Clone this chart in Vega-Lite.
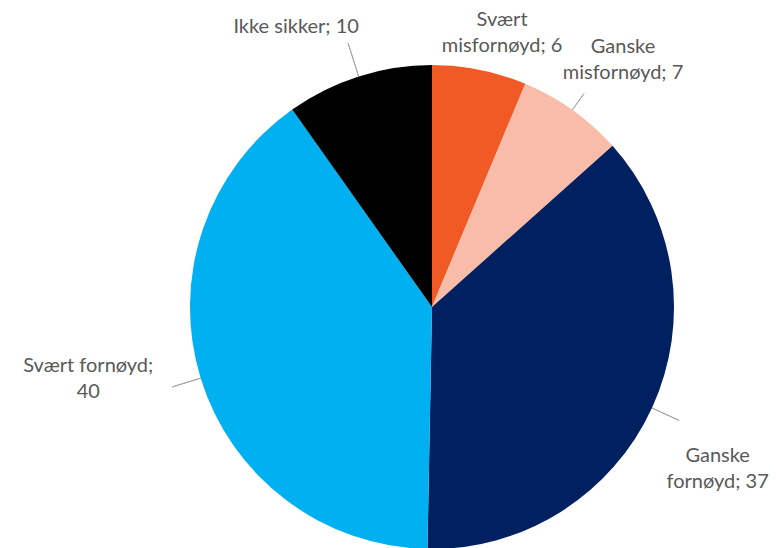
{
  "$schema": "https://vega.github.io/schema/vega-lite/v6.json",
  "autosize": {"type": "none"},
  "width": 484,
  "height": 484,
  "padding": {"left": 190, "top": 65, "right": 102, "bottom": 0},
  "background": "white",
  "config": {"view": {"stroke": null}},
  "data": {
    "values": [
      {"cat": "Svært misfornøyd", "value": 6.3, "label": "Svært\nmisfornøyd; 6"},
      {"cat": "Ganske misfornøyd", "value": 7.1, "label": "Ganske\nmisfornøyd; 7"},
      {"cat": "Ganske fornøyd", "value": 36.9, "label": "Ganske\nfornøyd; 37"},
      {"cat": "Svært fornøyd", "value": 39.9, "label": "Svært fornøyd;\n40"},
      {"cat": "Ikke sikker", "value": 9.8, "label": "Ikke sikker; 10"}
    ]
  },
  "transform": [
    {"window": [{"op": "sum", "field": "value", "as": "cum"}], "frame": [null, 0]},
    {"calculate": "datum.cum - datum.value", "as": "start"},
    {"calculate": "datum.cum - datum.value / 2", "as": "mid"}
  ],
  "layer": [
    {
      "mark": {"type": "arc"},
      "encoding": {
        "theta": {"field": "start", "type": "quantitative", "stack": null, "scale": {"domain": [0, 100]}},
        "theta2": {"field": "cum"},
        "color": {
          "field": "cat", "type": "nominal", "legend": null,
          "scale": {
            "domain": ["Svært misfornøyd", "Ganske misfornøyd", "Ganske fornøyd", "Svært fornøyd", "Ikke sikker"],
            "range": ["#F15A24", "#F8BCA8", "#002060", "#00B0F0", "#000000"]
          }
        }
      }
    },
    {
      "transform": [{"filter": "datum.cat === 'Svært misfornøyd'"}],
      "mark": {"type": "text", "font": "Lato", "fontSize": 20, "fill": "#595959", "lineBreak": "\n", "lineHeight": 26, "align": "center", "baseline": "middle", "radius": 275, "dx": 16, "dy": -17},
      "encoding": {"theta": {"field": "mid", "type": "quantitative", "stack": null}, "text": {"field": "label"}}
    },
    {
      "transform": [{"filter": "datum.cat === 'Ganske misfornøyd'"}],
      "layer": [
        {
          "mark": {"type": "arc", "stroke": "#A6A6A6", "strokeWidth": 1, "fill": null, "radius": 262, "radius2": 242},
          "encoding": {"theta": {"field": "mid", "type": "quantitative", "stack": null}, "theta2": {"field": "mid"}}
        },
        {
          "mark": {"type": "text", "font": "Lato", "fontSize": 20, "fill": "#595959", "lineBreak": "\n", "lineHeight": 26, "align": "center", "baseline": "middle", "radius": 300, "dx": 17, "dy": -16},
          "encoding": {"theta": {"field": "mid", "type": "quantitative", "stack": null}, "text": {"field": "label"}}
        }
      ]
    },
    {
      "transform": [{"filter": "datum.cat === 'Ganske fornøyd'"}],
      "layer": [
        {
          "mark": {"type": "arc", "stroke": "#A6A6A6", "strokeWidth": 1, "fill": null, "radius": 272, "radius2": 242},
          "encoding": {"theta": {"field": "mid", "type": "quantitative", "stack": null}, "theta2": {"field": "mid"}}
        },
        {
          "mark": {"type": "text", "font": "Lato", "fontSize": 20, "fill": "#595959", "lineBreak": "\n", "lineHeight": 26, "align": "center", "baseline": "middle", "radius": 300, "dx": 13, "dy": 24},
          "encoding": {"theta": {"field": "mid", "type": "quantitative", "stack": null}, "text": {"field": "label"}}
        }
      ]
    },
    {
      "transform": [{"filter": "datum.cat === 'Svært fornøyd'"}],
      "layer": [
        {
          "mark": {"type": "arc", "stroke": "#A6A6A6", "strokeWidth": 1, "fill": null, "radius": 272, "radius2": 242},
          "encoding": {"theta": {"field": "mid", "type": "quantitative", "stack": null}, "theta2": {"field": "mid"}}
        },
        {
          "mark": {"type": "text", "font": "Lato", "fontSize": 20, "fill": "#595959", "lineBreak": "\n", "lineHeight": 26, "align": "center", "baseline": "middle", "radius": 300, "dx": -57, "dy": -29},
          "encoding": {"theta": {"field": "mid", "type": "quantitative", "stack": null}, "text": {"field": "label"}}
        }
      ]
    },
    {
      "transform": [{"filter": "datum.cat === 'Ikke sikker'"}],
      "layer": [
        {
          "mark": {"type": "arc", "stroke": "#A6A6A6", "strokeWidth": 1, "fill": null, "radius": 277, "radius2": 242},
          "encoding": {"theta": {"field": "mid", "type": "quantitative", "stack": null}, "theta2": {"field": "mid"}}
        },
        {
          "mark": {"type": "text", "font": "Lato", "fontSize": 20, "fill": "#595959", "lineBreak": "\n", "lineHeight": 26, "align": "center", "baseline": "middle", "radius": 280, "dx": -51, "dy": -13},
          "encoding": {"theta": {"field": "mid", "type": "quantitative", "stack": null}, "text": {"field": "label"}}
        }
      ]
    }
  ]
}
